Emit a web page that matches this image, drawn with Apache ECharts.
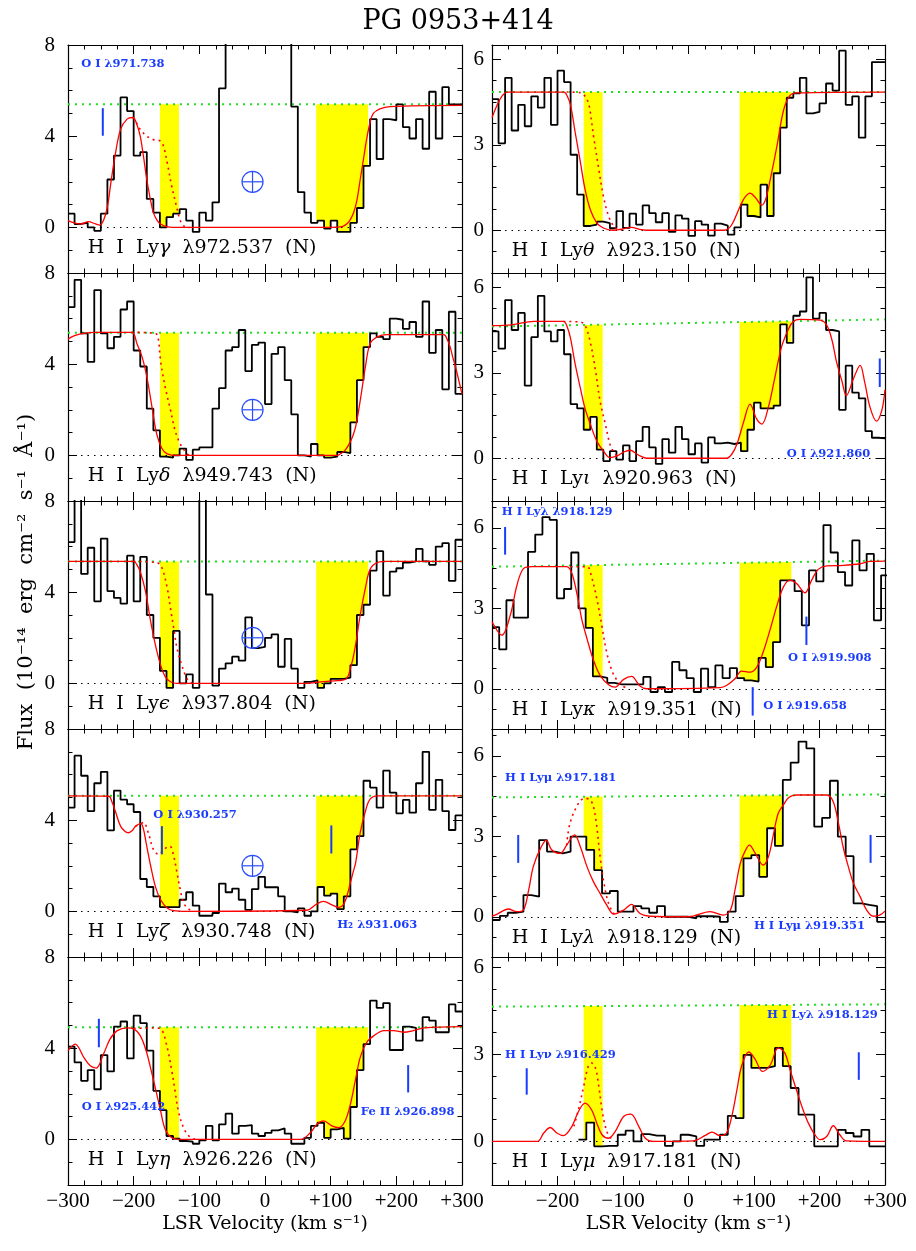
<!DOCTYPE html>
<html>
<head>
<meta charset="utf-8">
<title>PG 0953+414</title>
<script src="https://cdn.jsdelivr.net/npm/echarts@6.0.0/dist/echarts.min.js"></script>
<style>
  html, body { margin: 0; padding: 0; background: #fff; }
  #chart { width: 916px; height: 1251px; }
</style>
</head>
<body>
<div id="chart"></div>
<script>
// ---------------- data (flux in 1e-14 erg cm^-2 s^-1 A^-1, velocity in km/s) ----------------
const xTickValues = [-300, -200, -100, 0, 100, 200, 300];
const xTickText = ['−300', '−200', '−100', '0', '+100', '+200', '+300'];
const leftTicks = [0, 4, 8];
const rightTicks = [0, 3, 6];
const hvcRanges = [[-160, -131], [78, 157]]; // shaded velocity ranges

// H I Ly gamma
const gammaFlux = [0.6, 0.15, 0.2, 0.0, -0.15, 0.6, 2.1, 3.15, 5.7, 5.1,
  3.15, 3.3, 1.25, 0.65, 0.0, 0.45, 0.6, 0.8, 0.3, -0.2,
  0.65, 0.3, 1.1, 6.1, 12, 14, 15, 16, 15, 14,
  13, 12, 11, 9.5, 5.3, 1.55, 0.65, 0.2, 0.3, -0.05,
  0.3, -0.2, -0.2, 0.2, 0.85, 2.7, 4.75, 3.0, 4.75, 4.7,
  5.4, 4.4, 3.9, 4.75, 3.45, 5.95, 3.9, 6.15, 5.4, 5.4];
const gammaModel = [[-300, 0.3], [-290, 0.2], [-281, 0.15], [-269, 0.25], [-258, 0.15], [-252, 0.1],
  [-246, 0.3], [-240, 0.9], [-235, 1.9], [-228, 3.2], [-220, 4.3], [-210, 4.75], [-201, 4.82],
  [-195, 4.5], [-190, 4.0], [-185, 3.1], [-180, 2.1], [-175, 1.3], [-170, 0.65], [-164, 0.3],
  [-159, 0.15], [-150, 0.03], [-140, 0], [100, 0], [115, 0.02], [122, 0.1], [129, 0.3], [135, 0.65],
  [140, 1.2], [145, 2.1], [150, 3.0], [155, 3.9], [160, 4.6], [165, 5.0], [175, 5.2], [190, 5.3], [300, 5.35]];
const gammaPartial = [[-201, 4.82], [-195, 4.55], [-190, 4.3], [-180, 4.0], [-170, 3.85], [-160, 3.8],
  [-155, 3.6], [-149, 2.85], [-142, 1.8], [-135, 0.95], [-129, 0.3], [-122, 0.03], [-115, 0]];
const gammaCont = [5.4, 5.4];
const gammaMarks = [[-247, 4.02, 5.23]];
const gammaNotes = [[-280, 7.16, 'O I λ971.738']];

// H I Ly delta
const deltaFlux = [6.5, 7.7, 5.35, 4.1, 7.25, 5.35, 4.7, 5.2, 6.4, 6.75,
  4.6, 3.9, 2.05, 1.1, -0.05, -0.1, 0.0, 0.3, -0.2, 0.25,
  0.35, 0.35, 2.05, 2.95, 4.6, 4.75, 5.5, 3.7, 4.85, 4.95,
  2.25, 4.45, 4.75, 3.3, 1.8, 0.0, -0.05, 0.5, 0.0, -0.1,
  -0.05, 0.15, 0.1, 1.45, 3.3, 4.75, 5.35, 5.2, 5.1, 6.0,
  5.95, 5.55, 5.85, 5.2, 6.75, 4.5, 5.5, 2.9, 6.3, 2.7];
const deltaModel = [[-300, 5.1], [-290, 5.25], [-276, 5.35], [-260, 5.4], [-203, 5.4], [-195, 4.9],
  [-187, 4.3], [-180, 3.45], [-172, 2.1], [-165, 0.95], [-157, 0.3], [-149, 0.07], [-134, 0],
  [110, 0], [115, 0.07], [121, 0.2], [127, 0.44], [133, 0.8], [138, 1.25], [145, 2.4], [153, 3.9],
  [160, 4.9], [171, 5.2], [186, 5.3], [272, 5.3], [278, 5.05], [282, 4.75], [286, 4.3], [290, 3.9],
  [295, 3.3], [300, 2.7]];
const deltaPartial = [[-203, 5.4], [-167, 5.35], [-163, 5.2], [-159, 4.15], [-152, 3.0], [-144, 2.0],
  [-137, 1.1], [-129, 0.5], [-121, 0.15], [-116, 0]];
const deltaCont = [5.38, 5.38];

// H I Ly epsilon
const epsFlux = [6.2, 8.5, 4.8, 5.95, 3.6, 6.35, 4.05, 3.75, 3.5, 5.6,
  3.6, 5.55, 3.0, 2.0, 0.55, -0.2, 2.3, 0.0, 0.4, -0.2,
  9.5, 3.9, -0.1, 0.65, 0.88, 1.17, 1.0, 2.9, 1.55, 1.6,
  2.0, 2.15, 0.73, 1.95, 0.65, -0.2, 0.07, 0.13, -0.2, 0.0,
  0.2, 0.2, 0.25, 0.8, 3.0, 3.45, 4.95, 5.8, 3.85, 4.9,
  5.05, 5.3, 5.35, 5.9, 5.35, 5.2, 6.0, 6.15, 4.5, 6.3];
const epsModel = [[-300, 5.35], [-200, 5.35], [-195, 5.2], [-190, 4.9], [-182, 4.05], [-175, 2.85],
  [-167, 1.7], [-159, 0.8], [-152, 0.3], [-144, 0.07], [-134, 0], [60, 0], [90, 0.08], [110, 0.12],
  [122, 0.17], [127, 0.35], [130, 0.66], [134, 1.1], [138, 1.7], [145, 3.0], [153, 4.2], [160, 5.0],
  [171, 5.3], [186, 5.35], [300, 5.35]];
const epsPartial = [[-200, 5.35], [-165, 5.3], [-157, 5.07], [-149, 4.19], [-144, 3.3], [-139, 2.42],
  [-134, 1.54], [-126, 0.73], [-119, 0.22], [-112, 0.03], [-105, 0]];
const epsCont = [5.35, 5.35];

// H I Ly zeta
const zetaFlux = [4.55, 6.83, 5.95, 4.4, 5.62, 6.12, 3.55, 5.3, 4.9, 4.7,
  4.36, 1.42, 1.07, 0.66, 0.19, 0.19, 0.19, 0.51, 0.84, 0.25,
  -0.19, -0.19, -0.07, 1.22, 0.84, 1.0, 0.51, 0.07, 0.98, 1.51,
  1.06, 1.06, 0.66, 0.0, -0.04, 0.13, -0.19, 0.0, 1.07, 0.69,
  0.78, 0.1, 0.66, 2.72, 3.3, 5.73, 5.43, 4.55, 6.17, 5.21,
  4.3, 4.89, 4.33, 5.62, 7.0, 4.45, 5.77, 4.4, 3.57, 4.21];
const zetaModel = [[-300, 5.07], [-238, 5.05], [-233, 4.8], [-228, 4.4], [-220, 3.74], [-213, 3.5],
  [-208, 3.45], [-202, 3.55], [-197, 3.74], [-189, 3.85], [-185, 3.6], [-181, 3.0], [-174, 1.98],
  [-167, 1.1], [-159, 0.51], [-149, 0.15], [-139, 0.03], [-119, 0], [64, 0.05], [77, 0.29], [89, 0.44],
  [102, 0.29], [112, 0.18], [118, 0.25], [122, 0.44], [126, 0.8], [130, 1.25], [134, 1.7], [138, 2.13],
  [145, 3.45], [153, 4.4], [160, 4.92], [171, 5.07], [300, 5.07]];
const zetaPartial = [[-197, 3.74], [-189, 3.85], [-185, 3.9], [-177, 3.38], [-170, 2.72], [-162, 2.5],
  [-154, 2.72], [-145, 2.86], [-139, 2.42], [-134, 1.69], [-129, 0.95], [-124, 0.37], [-116, 0.1], [-108, 0]];
const zetaCont = [5.07, 5.07];
const zetaMarks = [[-157, 2.5, 3.74], [101, 2.54, 3.77]];
const zetaNotes = [[-170, 4.23, 'O I λ930.257'], [110, -0.59, 'H₂ λ931.063']];

// H I Ly eta
const etaFlux = [4.07, 3.38, 2.57, 3.04, 2.2, 3.7, 2.98, 4.95, 5.17, 3.55,
  5.43, 5.1, 3.89, 2.13, 1.28, 0.15, 0.03, -0.07, -0.1, -0.19,
  -0.04, 0.59, -0.04, 0.66, 1.13, 0.25, 0.59, 0.63, 0.25, 0.15,
  0.29, 0.4, 0.48, 0.25, -0.19, -0.19, 0.07, 0.59, 0.73, 0.07,
  0.44, 0.51, 0.03, 1.42, 3.04, 4.18, 6.09, 5.77, 5.98, 3.92,
  3.92, 4.95, 4.89, 4.33, 5.36, 5.21, 4.7, 4.7, 5.92, 5.61];
const etaModel = [[-300, 3.89], [-289, 4.18], [-276, 3.6], [-266, 3.23], [-257, 3.13], [-246, 3.74],
  [-236, 4.4], [-225, 4.77], [-210, 4.89], [-200, 4.85], [-190, 4.55], [-181, 3.89], [-172, 2.86],
  [-166, 2.13], [-159, 1.25], [-152, 0.44], [-142, 0.07], [-129, 0], [54, 0], [69, 0.29], [79, 0.66],
  [89, 0.81], [102, 0.59], [112, 0.51], [122, 0.81], [130, 1.54], [138, 2.64], [145, 3.6], [155, 4.26],
  [166, 4.55], [181, 4.77], [196, 4.77], [211, 4.7], [226, 4.77], [242, 4.89], [300, 4.95]];
const etaPartial = [[-200, 4.87], [-170, 4.89], [-159, 4.85], [-149, 4.04], [-142, 3.01], [-137, 2.13],
  [-132, 1.25], [-124, 0.51], [-116, 0.15], [-109, 0.03], [-100, 0]];
const etaCont = [4.92, 4.92];
const etaMarks = [[-253, 4.04, 5.29], [218, 2.06, 3.26]];
const etaNotes = [[-279, 1.42, 'O I λ925.442'], [146, 1.2, 'Fe II λ926.898']];

// H I Ly theta
const thetaFlux = [4.6, 3.05, 5.35, 3.5, 4.4, 3.65, 4.7, 4.3, 5.35, 3.7,
  5.6, 5.2, 2.65, 1.25, 0.15, 0.2, 0.3, 0.25, 0.07, 0.67,
  0.08, 0.58, 0.2, 0.87, 0.6, 0.28, 0.6, -0.06, 0.52, 0.41,
  -0.2, 0.32, 0.2, -0.19, 0.23, 0.16, -0.15, 0.1, 0.9, 0.5,
  0.45, 1.6, 0.5, 2.0, 3.6, 4.65, 4.8, 5.35, 4.1, 4.15,
  4.45, 5.15, 4.9, 6.3, 4.4, 4.7, 3.25, 4.7, 5.9, 5.9];
const thetaModel = [[-300, 3.95], [-292, 4.4], [-285, 4.7], [-277, 4.85], [-190, 4.85], [-185, 4.7],
  [-180, 4.38], [-173, 3.43], [-165, 2.38], [-158, 1.44], [-150, 0.73], [-140, 0.26], [-130, 0.08],
  [-115, 0], [-100, 0.05], [-87, 0.1], [-75, 0.03], [-65, 0], [55, 0], [63, 0.1], [69, 0.32], [79, 0.85],
  [86, 1.15], [94, 1.3], [102, 1.15], [112, 0.88], [118, 1.1], [125, 1.8], [135, 2.95], [145, 4.2],
  [155, 4.73], [165, 4.82], [300, 4.85]];
const thetaPartial = [[-186, 4.85], [-165, 4.83], [-158, 4.7], [-152, 4.4], [-145, 3.3], [-137, 2.15],
  [-130, 1.2], [-122, 0.5], [-114, 0.14], [-107, 0.02], [-95, 0]];
const thetaCont = [4.85, 4.85];

// H I Ly iota
const iotaFlux = [4.45, 3.85, 5.55, 4.5, 5.1, 2.55, 4.25, 5.7, 4.45, 4.1,
  4.5, 3.65, 1.9, 1.75, 1.0, 1.45, 0.3, -0.1, 0.25, -0.05,
  0.45, -0.1, 0.6, 1.1, 0.38, -0.2, 0.67, 0.2, 1.1, 0.67,
  0.14, 0.52, -0.15, 0.73, 0.52, 0.55, 0.5, 0.55, 0.25, 1.0,
  1.95, 1.75, 1.75, 1.85, 4.7, 4.05, 5.0, 5.15, 6.35, 4.9,
  5.1, 4.5, 4.45, 1.7, 3.25, 2.3, 2.1, 0.95, 0.72, 0.7];
const iotaModel = [[-300, 4.65], [-270, 4.68], [-236, 4.8], [-191, 4.8], [-185, 4.6], [-180, 4.2],
  [-173, 3.3], [-165, 2.45], [-158, 1.75], [-150, 1.2], [-140, 0.6], [-130, 0.26], [-120, 0.02],
  [-109, 0.08], [-99, 0.22], [-89, 0.28], [-79, 0.15], [-74, 0.08], [-64, 0], [58, 0], [66, 0.14],
  [74, 0.5], [84, 1.26], [94, 1.9], [104, 1.38], [112, 1.2], [122, 1.8], [132, 2.85], [142, 3.9],
  [153, 4.55], [160, 4.8], [170, 4.87], [201, 4.85], [211, 4.67], [219, 4.15], [226, 3.38], [234, 2.73],
  [241, 2.2], [252, 2.8], [262, 3.26], [269, 2.67], [277, 1.8], [287, 1.3], [295, 1.67], [300, 2.4]];
const iotaPartial = [[-191, 4.8], [-165, 4.78], [-158, 4.67], [-150, 4.08], [-142, 3.08], [-135, 2.0],
  [-127, 1.2], [-120, 0.5], [-114, 0.2], [-109, 0.08]];
const iotaCont = [4.62, 4.87];
const iotaMarks = [[292, 2.5, 3.5]];
const iotaNotes = [[150, 0.14, 'O I λ921.860']];

// H I Ly kappa
const kappaFlux = [2.3, 1.47, 3.3, 2.65, 2.65, 5.1, 5.75, 6.4, 6.3, 3.37,
  3.72, 5.08, 3.0, 2.27, 0.46, 0.41, 0.22, 0.16, 0.16, 0.16,
  0.16, 0.44, -0.12, 0.06, -0.12, 1.0, 0.69, 0.4, -0.12, 0.75,
  0.06, 0.87, 0.4, 0.77, 0.4, 0.31, 0.27, 1.15, 0.81, 1.74,
  4.04, 4.04, 3.64, 2.36, 4.41, 4.0, 6.1, 5.08, 4.35, 3.85,
  5.53, 4.41, 5.03, 2.55, 4.23];
const kappaModel = [[-300, 2.5], [-285, 2.0], [-272, 2.75], [-262, 3.85], [-252, 4.48], [-239, 4.55],
  [-186, 4.55], [-178, 4.3], [-170, 3.5], [-163, 2.6], [-155, 1.87], [-145, 1.06], [-135, 0.5],
  [-122, 0.15], [-112, 0.06], [-99, 0.35], [-87, 0.46], [-74, 0.1], [-64, 0], [48, 0.04], [58, 0.12],
  [71, 0.37], [81, 0.66], [94, 0.62], [104, 0.8], [114, 1.37], [125, 2.24], [135, 3.1], [145, 3.8],
  [155, 4.05], [165, 3.92], [178, 3.58], [188, 4.05], [198, 4.45], [211, 4.58], [236, 4.6], [262, 4.66],
  [277, 4.75], [300, 4.76]];
const kappaPartial = [[-180, 4.55], [-155, 4.55], [-148, 4.17], [-140, 3.36], [-132, 2.3], [-125, 1.37],
  [-117, 0.68], [-109, 0.31], [-102, 0.12], [-94, 0.03]];
const kappaCont = [4.55, 4.78];
const kappaMarks = [[-280, 5.0, 6.03], [180, 1.63, 2.69], [98, -1.0, 0.06]];
const kappaNotes = [[-285, 6.6, 'H I Lyλ λ918.129'], [152, 1.15, 'O I λ919.908'], [114, -0.65, 'O I λ919.658']];

// H I Ly lambda
const lambdaFlux = [-0.12, 0.03, 0.15, 0.19, 0.81, 0.75, 2.86, 2.43, 2.36, 2.43,
  2.99, 2.99, 2.49, 1.74, 0.87, 0.96, 0.19, 0.19, 0.4, 0.31,
  0.15, 0.4, 0, 0, 0, -0.06, 0.02, 0.02, 0, -0.19,
  0.19, 0.77, 2.18, 2.3, 1.49, 3.3, 2.64, 5.1, 5.75, 6.53,
  6.28, 3.36, 3.69, 5.07, 2.99, 2.26, 0.5, 0.44, 0.4, -0.19];
const lambdaModel = [[-300, 0.02], [-292, 0.1], [-275, 0.29], [-262, 0.19], [-252, 0.25], [-244, 1.0],
  [-237, 1.87], [-226, 2.55], [-217, 2.86], [-209, 2.5], [-196, 2.36], [-186, 2.67], [-174, 3.05],
  [-165, 2.6], [-155, 1.87], [-145, 1.3], [-135, 0.87], [-125, 0.44], [-114, 0.1], [-99, 0.25],
  [-87, 0.46], [-74, 0.12], [-59, 0.02], [0, 0], [33, 0.19], [53, 0.06], [64, 0.25], [71, 1.0],
  [79, 1.99], [86, 2.43], [93, 2.67], [102, 2.36], [114, 1.93], [122, 2.24], [130, 3.11], [137, 3.86],
  [145, 4.17], [153, 4.45], [165, 4.54], [211, 4.54], [221, 4.29], [229, 3.48], [236, 2.61], [244, 1.87],
  [252, 1.24], [262, 0.75], [272, 0.25], [282, 0.02], [292, 0.06], [300, 0.21]];
const lambdaPartial = [[-186, 2.67], [-181, 3.48], [-168, 4.23], [-158, 4.42], [-150, 4.35], [-145, 4.1],
  [-140, 3.36], [-135, 2.24], [-129, 1.24], [-122, 0.5], [-114, 0.12], [-107, 0.02]];
const lambdaCont = [4.45, 4.56];
const lambdaMarks = [[-260, 2.01, 3.05], [278, 2.01, 3.05]];
const lambdaNotes = [[-280, 5.16, 'H I Lyμ λ917.181'], [100, -0.34, 'H I Lyμ λ919.351']];

// H I Ly mu
const muFlux = [0.06, 0.65, -0.17, -0.15, -0.15, 0.23, 0.37, 0.0, 0.25, 0.2,
  0.2, -0.15, 0.0, 0.23, 0.17, -0.15, 0.06, 0.06, 0.23, 0.88,
  0.8, 2.98, 2.53, 2.53, 2.59, 3.22, 2.59, 1.84, 0.92, 0.92,
  -0.17, -0.17, -0.17, 0.4, 0.29, 0.17, 0.4, -0.17, -0.17];
const muModel = [[-300, 0], [-231, 0], [-221, 0.29], [-211, 0.48], [-201, 0.29], [-191, 0.2], [-178, 0.52],
  [-168, 1.03], [-158, 1.32], [-148, 1.09], [-140, 0.63], [-132, 0.23], [-122, 0.11], [-112, 0.34],
  [-99, 0.86], [-88, 0.94], [-76, 0.52], [-66, 0.11], [-53, 0], [8, 0.02], [25, 0.2], [36, 0.32],
  [48, 0.2], [58, 0.29], [66, 0.86], [74, 1.78], [81, 2.59], [92, 3.08], [102, 2.82], [113, 2.41],
  [125, 2.64], [137, 3.22], [147, 3.05], [155, 2.47], [163, 1.9], [173, 1.21], [183, 0.63], [193, 0.23],
  [201, 0.06], [211, 0.17], [221, 0.54], [231, 0.23], [241, 0.02], [300, 0]];
const muPartial = [[-175, 0.52], [-168, 1.09], [-160, 1.9], [-153, 2.59], [-148, 2.7], [-142, 2.53],
  [-137, 1.9], [-132, 1.09], [-127, 0.52], [-121, 0.17], [-114, 0.06]];
const muCont = [4.64, 4.72];
const muMarks = [[-247, 1.61, 2.52], [260, 2.12, 3.07]];
const muNotes = [[-280, 2.98, 'H I Lyν λ916.429'], [120, 4.34, 'H I Lyλ λ918.129']];

const crossPoint = [[-19, 2]]; // earth symbol in the first four left panels

// left column top to bottom, then right column top to bottom
const panels = [
  { greek: 'γ', wave: '972.537', flux: gammaFlux, start: -300, width: 10, model: gammaModel, partial: gammaPartial, cont: gammaCont, marks: gammaMarks, notes: gammaNotes, cross: crossPoint },
  { greek: 'δ', wave: '949.743', flux: deltaFlux, start: -300, width: 10, model: deltaModel, partial: deltaPartial, cont: deltaCont, marks: [], notes: [], cross: crossPoint },
  { greek: 'ϵ', wave: '937.804', flux: epsFlux, start: -300, width: 10, model: epsModel, partial: epsPartial, cont: epsCont, marks: [], notes: [], cross: crossPoint },
  { greek: 'ζ', wave: '930.748', flux: zetaFlux, start: -300, width: 10, model: zetaModel, partial: zetaPartial, cont: zetaCont, marks: zetaMarks, notes: zetaNotes, cross: crossPoint },
  { greek: 'η', wave: '926.226', flux: etaFlux, start: -300, width: 10, model: etaModel, partial: etaPartial, cont: etaCont, marks: etaMarks, notes: etaNotes, cross: [] },
  { greek: 'θ', wave: '923.150', flux: thetaFlux, start: -300, width: 10, model: thetaModel, partial: thetaPartial, cont: thetaCont, marks: [], notes: [], cross: [] },
  { greek: 'ι', wave: '920.963', flux: iotaFlux, start: -300, width: 10, model: iotaModel, partial: iotaPartial, cont: iotaCont, marks: iotaMarks, notes: iotaNotes, cross: [] },
  { greek: 'κ', wave: '919.351', flux: kappaFlux, start: -300, width: 11, model: kappaModel, partial: kappaPartial, cont: kappaCont, marks: kappaMarks, notes: kappaNotes, cross: [] },
  { greek: 'λ', wave: '918.129', flux: lambdaFlux, start: -300, width: 12, model: lambdaModel, partial: lambdaPartial, cont: lambdaCont, marks: lambdaMarks, notes: lambdaNotes, cross: [] },
  { greek: 'μ', wave: '917.181', flux: muFlux, start: -168, width: 12, model: muModel, partial: muPartial, cont: muCont, marks: muMarks, notes: muNotes, cross: [] }
];

// ---------------- layout / style ----------------
const COL_X = [68, 492];
const COL_W = [394, 393];
const ROW_Y = [45, 273, 501, 729, 957];
const ROW_H = 228;
const RIGHT_YMAX = [6.5, 6.5, 7, 7, 6.35];
const SERIF = '"DejaVu Serif", "Liberation Serif", serif';
const NUMS = '"Liberation Serif", "DejaVu Serif", serif';
const BLUE = '#1a3cff';
const RED = '#ff0000';

const chart = echarts.init(document.getElementById('chart'));

const grid = [], xAxis = [], yAxis = [], series = [];

function contAt(p, v) {
  return p.cont[0] + (p.cont[1] - p.cont[0]) * (v + 300) / 600;
}

function histPoints(p) {
  const pts = p.flux.map((f, k) => [p.start + k * p.width, f]);
  pts.push([p.start + p.flux.length * p.width, p.flux[p.flux.length - 1]]);
  return pts;
}

panels.forEach((p, i) => {
  const col = i < 5 ? 0 : 1;
  const row = i % 5;
  const yMin = col === 0 ? -2 : -1.5;
  const yMax = col === 0 ? 8 : RIGHT_YMAX[row];
  const step = col === 0 ? 1 : 0.75;
  const majors = col === 0 ? leftTicks : rightTicks;

  grid.push({ left: COL_X[col], top: ROW_Y[row], width: COL_W[col], height: ROW_H });

  const xi = xAxis.length;
  ['bottom', 'top'].forEach(pos => {
    const showLab = pos === 'bottom' && row === 4;
    xAxis.push({
      gridIndex: i, type: 'value', position: pos, min: -300, max: 300, interval: 100,
      axisLine: { show: true, onZero: false, lineStyle: { color: '#000', width: 1.2 } },
      axisTick: { show: true, inside: true, length: 9, lineStyle: { color: '#000' } },
      minorTick: { show: true, splitNumber: 4, length: 4.5, lineStyle: { color: '#000' } },
      splitLine: { show: false },
      axisLabel: {
        show: showLab, margin: 6, color: '#000', fontFamily: NUMS, fontSize: 21,
        formatter: v => (col === 1 && v === -300) ? '' : xTickText[xTickValues.indexOf(v)]
      },
      name: showLab ? 'LSR Velocity (km s⁻¹)' : '',
      nameLocation: 'middle', nameGap: 30,
      nameTextStyle: { color: '#000', fontFamily: SERIF, fontSize: 19 }
    });
  });

  const yi = yAxis.length;
  ['left', 'right'].forEach(pos => {
    // minor ticks + frame line
    yAxis.push({
      gridIndex: i, type: 'value', position: pos, min: yMin, max: yMax, interval: step,
      axisLine: { show: true, onZero: false, lineStyle: { color: '#000', width: 1.2 } },
      axisTick: { show: true, inside: true, length: 4.5, lineStyle: { color: '#000' } },
      axisLabel: { show: false },
      splitLine: { show: false }
    });
    // major ticks + labels
    yAxis.push({
      gridIndex: i, type: 'value', position: pos, min: yMin, max: yMax, interval: step,
      axisLine: { show: false, onZero: false },
      axisTick: { show: true, inside: true, length: 9, customValues: majors, lineStyle: { color: '#000' } },
      axisLabel: {
        show: pos === 'left', customValues: majors, margin: col === 0 ? 13 : 8,
        color: '#000', fontFamily: NUMS, fontSize: 21
      },
      splitLine: { show: false }
    });
  });

  const ax = { xAxisIndex: xi, yAxisIndex: yi };

  // shaded high-velocity ranges between spectrum and continuum
  series.push(Object.assign({
    type: 'custom', z: 1, silent: true, data: hvcRanges,
    renderItem: (params, api) => {
      const va = api.value(0), vb = api.value(1);
      const top = [api.coord([va, contAt(p, va)]), api.coord([vb, contAt(p, vb)])];
      const bottom = [];
      p.flux.forEach((f, k) => {
        const x0 = Math.max(p.start + k * p.width, va);
        const x1 = Math.min(p.start + (k + 1) * p.width, vb);
        if (x1 <= x0) return;
        bottom.push(api.coord([x0, Math.min(f, contAt(p, x0))]), api.coord([x1, Math.min(f, contAt(p, x1))]));
      });
      return { type: 'polygon', shape: { points: top.concat(bottom.reverse()) }, style: { fill: '#ffff00' } };
    }
  }, ax));

  // continuum
  series.push(Object.assign({
    type: 'line', z: 2, silent: true, showSymbol: false,
    data: [[-300, p.cont[0]], [300, p.cont[1]]],
    lineStyle: { color: '#22e022', width: 2, type: [2, 5] }
  }, ax));

  // spectrum histogram
  series.push(Object.assign({
    type: 'line', z: 3, silent: true, showSymbol: false, step: 'end',
    data: histPoints(p),
    lineStyle: { color: '#000', width: 1.8 },
    markLine: {
      silent: true, symbol: 'none', label: { show: false },
      lineStyle: { color: '#000', width: 1, type: [1.5, 5] },
      data: [{ yAxis: 0 }]
    }
  }, ax));

  // model without the high-velocity component
  series.push(Object.assign({
    type: 'line', z: 4, silent: true, showSymbol: false, smooth: 0.35,
    data: p.partial,
    lineStyle: { color: RED, width: 1.6, type: [2, 4] }
  }, ax));

  // full model
  series.push(Object.assign({
    type: 'line', z: 5, silent: true, showSymbol: false, smooth: 0.35,
    data: p.model,
    lineStyle: { color: RED, width: 1.3 }
  }, ax));

  // blue tick marks for other lines
  series.push(Object.assign({
    type: 'custom', z: 6, silent: true, data: p.marks,
    renderItem: (params, api) => {
      const a = api.coord([api.value(0), api.value(1)]);
      const b = api.coord([api.value(0), api.value(2)]);
      return { type: 'line', shape: { x1: a[0], y1: a[1], x2: b[0], y2: b[1] }, style: { stroke: BLUE, lineWidth: 2 } };
    }
  }, ax));

  // blue line identifications
  series.push(Object.assign({
    type: 'custom', z: 6, silent: true, data: p.notes.map(n => [n[0], n[1]]),
    renderItem: (params, api) => {
      const c = api.coord([api.value(0), api.value(1)]);
      return {
        type: 'text', x: c[0], y: c[1],
        style: { text: p.notes[params.dataIndex][2], fill: BLUE, font: 'bold 11.5px "DejaVu Serif"', align: 'left', verticalAlign: 'middle' }
      };
    }
  }, ax));

  // earth (geocoronal) symbol
  series.push(Object.assign({
    type: 'custom', z: 6, silent: true, data: p.cross,
    renderItem: (params, api) => {
      const c = api.coord([api.value(0), api.value(1)]);
      const r = 10.5;
      const s = { stroke: '#2a4dff', lineWidth: 1.2, fill: null };
      return {
        type: 'group', children: [
          { type: 'circle', shape: { cx: c[0], cy: c[1], r: r }, style: s },
          { type: 'line', shape: { x1: c[0] - r, y1: c[1], x2: c[0] + r, y2: c[1] }, style: s },
          { type: 'line', shape: { x1: c[0], y1: c[1] - r, x2: c[0], y2: c[1] + r }, style: s }
        ]
      };
    }
  }, ax));

  // panel label
  series.push(Object.assign({
    type: 'custom', z: 6, silent: true, data: [[-270, 0]],
    renderItem: (params, api) => {
      const c = api.coord([api.value(0), api.value(1)]);
      return {
        type: 'text', x: c[0], y: c[1] + 21,
        style: {
          text: '{a|H  I  Ly}{g|' + p.greek + '}{a|  λ' + p.wave + '  (N)}',
          rich: {
            a: { fontFamily: SERIF, fontSize: 19, fill: '#000' },
            g: { fontFamily: SERIF, fontSize: 19, fontStyle: 'italic', fill: '#000' }
          },
          align: 'left', verticalAlign: 'middle'
        }
      };
    }
  }, ax));
});

chart.setOption({
  animation: false,
  backgroundColor: '#fff',
  title: {
    text: 'PG 0953+414', left: 'center', top: 3,
    textStyle: { fontFamily: SERIF, fontSize: 27, fontWeight: 'normal', color: '#000' }
  },
  graphic: [{
    type: 'text', x: 27, y: 582, rotation: Math.PI / 2,
    style: {
      text: 'Flux  (10⁻¹⁴  erg  cm⁻²  s⁻¹  Å⁻¹)', fill: '#000',
      font: '21px "DejaVu Serif"', align: 'center', verticalAlign: 'middle'
    }
  }],
  grid: grid,
  xAxis: xAxis,
  yAxis: yAxis,
  series: series
});
</script>
</body>
</html>
